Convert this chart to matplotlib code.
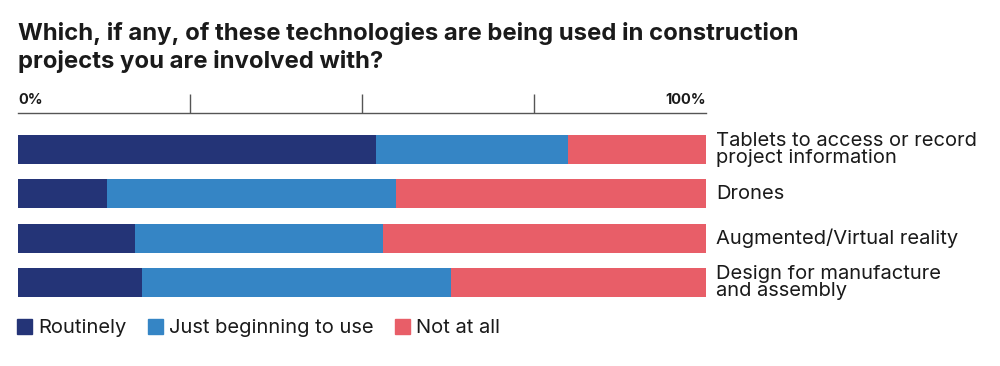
import matplotlib
matplotlib.use("Agg")
import matplotlib.pyplot as plt
from matplotlib.patches import Rectangle

categories = ["Tablets to access or record\nproject information", "Drones",
              "Augmented/Virtual reality", "Design for manufacture\nand assembly"]
series_names = ["Routinely", "Just beginning to use", "Not at all"]
routinely = [52, 13, 17, 18]
beginning = [28, 42, 36, 45]
not_at_all = [20, 45, 47, 37]
colors = ["#243477", "#3585c5", "#e85e68"]
title = "Which, if any, of these technologies are being used in construction\nprojects you are involved with?"

plt.rcParams['font.family'] = ['Inter', 'DejaVu Sans']

W, H = 1000, 366
fig = plt.figure(figsize=(W / 100, H / 100), dpi=100)
ax = fig.add_axes([18 / W, 1 - 305 / H, 688 / W, 192 / H])

ypos = list(range(len(categories)))
left = [0] * len(categories)
for vals, name, col in zip([routinely, beginning, not_at_all], series_names, colors):
    ax.barh(ypos, vals, left=left, height=0.655, color=col, label=name, linewidth=0)
    left = [l + v for l, v in zip(left, vals)]

ax.set_xlim(0, 100)
ax.set_ylim(3.507, -0.823)
for s in ["left", "right", "bottom"]:
    ax.spines[s].set_visible(False)
ax.spines["top"].set_color("#555555")
ax.spines["top"].set_linewidth(1.0)
ax.set_yticks([])
ax.xaxis.tick_top()
ax.set_xticks([25, 50, 75])
ax.set_xticklabels([])
ax.tick_params(axis="x", length=14, width=1.0, color="#555555", direction="out")

ax.text(0, 1.0 + 13 / 192, "0%", transform=ax.transAxes, ha="left", va="center",
        fontsize=10.5, fontweight="bold", color="#1a1a1a")
ax.text(1, 1.0 + 13 / 192, "100%", transform=ax.transAxes, ha="right", va="center",
        fontsize=10.5, fontweight="bold", color="#1a1a1a")

for i, cat in enumerate(categories):
    ax.text(101.5, i, cat, ha="left", va="center", fontsize=14.5, color="#1a1a1a",
            linespacing=0.88, clip_on=False)

fig.text(18 / W, 1 - 22 / H, title, ha="left", va="top", fontsize=17.2,
         fontweight="bold", color="#1a1a1a", linespacing=1.27)

# legend
handles = [Rectangle((0, 0), 1, 1, color=c) for c in colors]
leg = fig.legend(handles, series_names, loc="center left",
                 bbox_to_anchor=(17 / W, 1 - 328 / H), ncol=3, frameon=False,
                 fontsize=14.5, handlelength=0.75, handleheight=0.75,
                 handletextpad=0.3, columnspacing=1.05, borderpad=0,
                 borderaxespad=0)
for t in leg.get_texts():
    t.set_color("#1a1a1a")

fig.savefig("out.png", dpi=100, facecolor="white")
